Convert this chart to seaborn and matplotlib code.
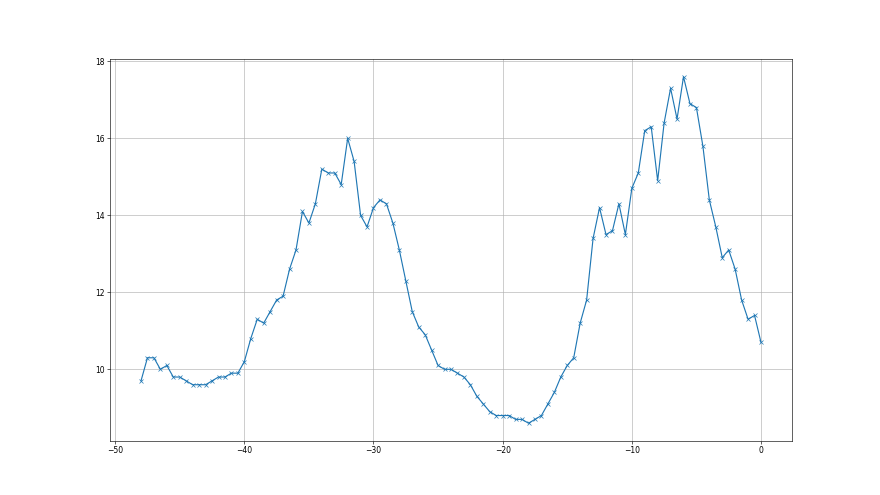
import numpy as np
import pandas as pd
import seaborn as sns
import matplotlib
matplotlib.use("Agg")
import matplotlib.pyplot as plt

# x positions, step 0.5 from -48 to 0
x_start = -48.0
x_step = 0.5
values = [
    9.7, 10.3, 10.3, 10.0, 10.1, 9.8, 9.8, 9.7, 9.6, 9.6,
    9.6, 9.7, 9.8, 9.8, 9.9, 9.9, 10.2, 10.8, 11.3, 11.2,
    11.5, 11.8, 11.9, 12.6, 13.1, 14.1, 13.8, 14.3, 15.2, 15.1,
    15.1, 14.8, 16.0, 15.4, 14.0, 13.7, 14.2, 14.4, 14.3, 13.8,
    13.1, 12.3, 11.5, 11.1, 10.9, 10.5, 10.1, 10.0, 10.0, 9.9,
    9.8, 9.6, 9.3, 9.1, 8.9, 8.8, 8.8, 8.8, 8.7, 8.7,
    8.6, 8.7, 8.8, 9.1, 9.4, 9.8, 10.1, 10.3, 11.2, 11.8,
    13.4, 14.2, 13.5, 13.6, 14.3, 13.5, 14.7, 15.1, 16.2, 16.3,
    14.9, 16.4, 17.3, 16.5, 17.6, 16.9, 16.8, 15.8, 14.4, 13.7,
    12.9, 13.1, 12.6, 11.8, 11.3, 11.4, 10.7,
]
xs = [x_start + i * x_step for i in range(len(values))]

df = pd.DataFrame({"x": xs, "y": values})

fig, ax = plt.subplots(figsize=(16, 9), dpi=55)
sns.lineplot(data=df, x="x", y="y", marker="x", color="#1f77b4",
             markeredgecolor="#1f77b4", markersize=5.5, markeredgewidth=0.9, ax=ax)
ax.grid(True, color="#b0b0b0", linewidth=0.8)
ax.set_xlabel("")
ax.set_ylabel("")
fig.savefig("out.png", dpi=55)
